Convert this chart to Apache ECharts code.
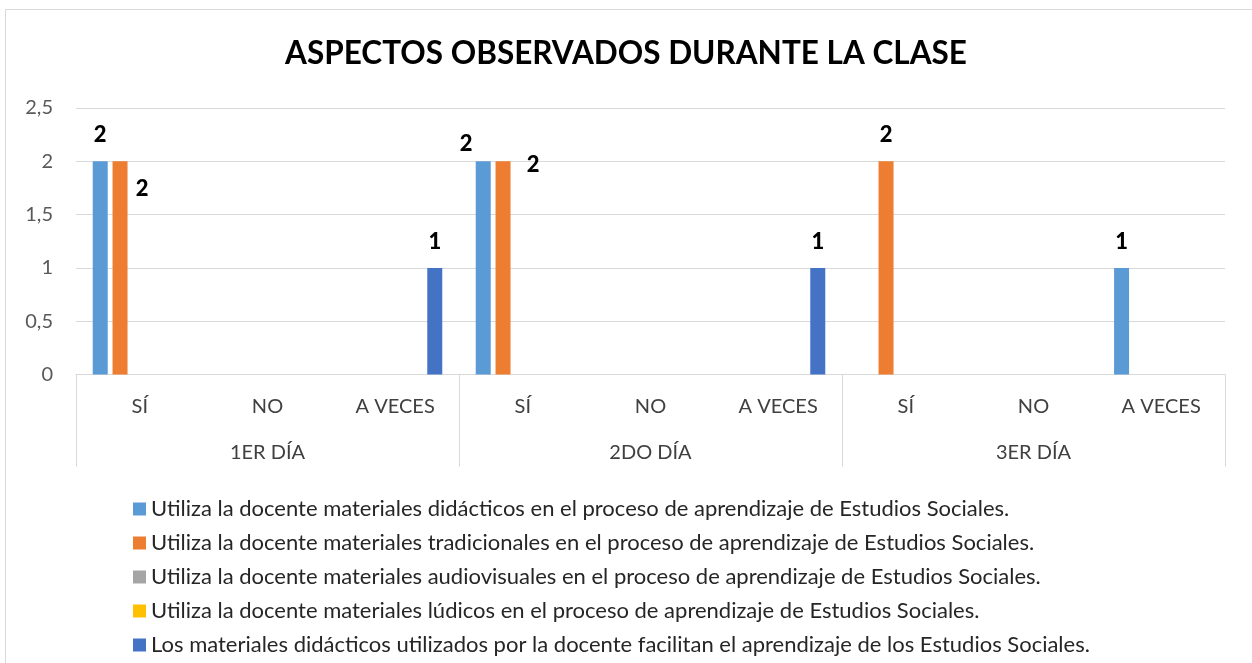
<!DOCTYPE html>
<html>
<head>
<meta charset="utf-8">
<script src="https://cdn.jsdelivr.net/npm/echarts@6/dist/echarts.min.js"></script>
<style>
  html, body { margin: 0; padding: 0; background: #fff; }
  #chart { width: 1252px; height: 663px; }
</style>
</head>
<body>
<div id="chart"></div>
<script>
// categories
const answers = ["SÍ", "NO", "A VECES", "SÍ", "NO", "A VECES", "SÍ", "NO", "A VECES"];
const days = ["1ER DÍA", "2DO DÍA", "3ER DÍA"];
const yTicks = [0, 0.5, 1, 1.5, 2, 2.5];

// series values (null = empty cell)
const didacticos   = [2, null, null, 2, null, null, null, null, 1];
const tradicionales = [2, null, null, 2, null, null, 2, null, null];
const audiovisuales = [null, null, null, null, null, null, null, null, null];
const ludicos       = [null, null, null, null, null, null, null, null, null];
const facilitan     = [null, null, 1, null, null, 1, null, null, null];

const names = [
  "Utiliza la docente materiales didácticos en el proceso de aprendizaje de Estudios Sociales.",
  "Utiliza la docente materiales tradicionales en el proceso de aprendizaje de Estudios Sociales.",
  "Utiliza la docente materiales audiovisuales en el proceso de aprendizaje de Estudios Sociales.",
  "Utiliza la docente materiales lúdicos en el proceso de aprendizaje de Estudios Sociales.",
  "Los materiales didácticos utilizados por la docente facilitan el aprendizaje de los Estudios Sociales."
];
const colors = ["#5b9bd5", "#ed7d31", "#a5a5a5", "#ffc000", "#4472c4"];
const values = [didacticos, tradicionales, audiovisuales, ludicos, facilitan];

// label nudges like the excel chart (series index -> {point index: [dx, dy]})
const labelNudge = {
  1: { 0: [22, 54], 3: [30, 30] },
  0: { 3: [-17, 9] }
};

const FONT = "Lato";
var myChart = echarts.init(document.getElementById("chart"));

const labelStyle = {
  show: true,
  position: "top",
  distance: 15,
  color: "#000",
  fontFamily: FONT,
  fontWeight: 900,
  fontSize: 22
};

const series = values.map((vals, si) => ({
  name: names[si],
  type: "bar",
  xAxisIndex: 0,
  barWidth: 15,
  barGap: "32%",
  itemStyle: { color: colors[si] },
  label: labelStyle,
  data: vals.map((v, i) => {
    const n = labelNudge[si] && labelNudge[si][i];
    if (v === null) return { value: null, label: { show: false } };
    return n ? { value: v, label: Object.assign({}, labelStyle, { offset: n }) } : v;
  })
}));

myChart.setOption({
  animation: false,
  title: {
    text: "ASPECTOS OBSERVADOS DURANTE LA CLASE",
    left: "center",
    top: 33,
    textStyle: { fontFamily: FONT, fontWeight: "bold", fontSize: 31.5, color: "#000" }
  },
  graphic: [
    { type: "line", shape: { x1: 5.5, y1: 9.5, x2: 1252, y2: 9.5 }, style: { stroke: "#d9d9d9", lineWidth: 1 } },
    { type: "line", shape: { x1: 5.5, y1: 9.5, x2: 5.5, y2: 663 }, style: { stroke: "#d9d9d9", lineWidth: 1 } }
  ],
  grid: { left: 76, right: 27, top: 108, bottom: 288.5, containLabel: false },
  legend: {
    orient: "vertical",
    left: 133,
    top: 498,
    padding: 0,
    height: 170,
    itemWidth: 13,
    itemHeight: 13,
    itemGap: 12,
    icon: "rect",
    textStyle: { fontFamily: FONT, fontSize: 22, color: "#262626", lineHeight: 22 },
    data: names
  },
  xAxis: [
    {
      type: "category",
      data: answers,
      axisLine: { lineStyle: { color: "#d9d9d9" } },
      axisTick: { show: false },
      axisLabel: { interval: 0, margin: 22, fontSize: 20, color: "#404040", fontFamily: FONT }
    },
    {
      type: "category",
      position: "bottom",
      data: days,
      axisLine: { show: false },
      axisTick: { show: true, length: 92, lineStyle: { color: "#d9d9d9" } },
      axisLabel: { interval: 0, margin: 68, fontSize: 20, color: "#404040", fontFamily: FONT }
    }
  ],
  yAxis: {
    type: "value",
    min: yTicks[0],
    max: yTicks[yTicks.length - 1],
    interval: 0.5,
    axisLine: { show: false },
    axisTick: { show: false },
    splitLine: { lineStyle: { color: "#d9d9d9" } },
    axisLabel: {
      margin: 23,
      fontSize: 20,
      color: "#595959",
      fontFamily: FONT,
      formatter: (v) => String(v).replace(".", ",")
    }
  },
  series: series
});
</script>
</body>
</html>
